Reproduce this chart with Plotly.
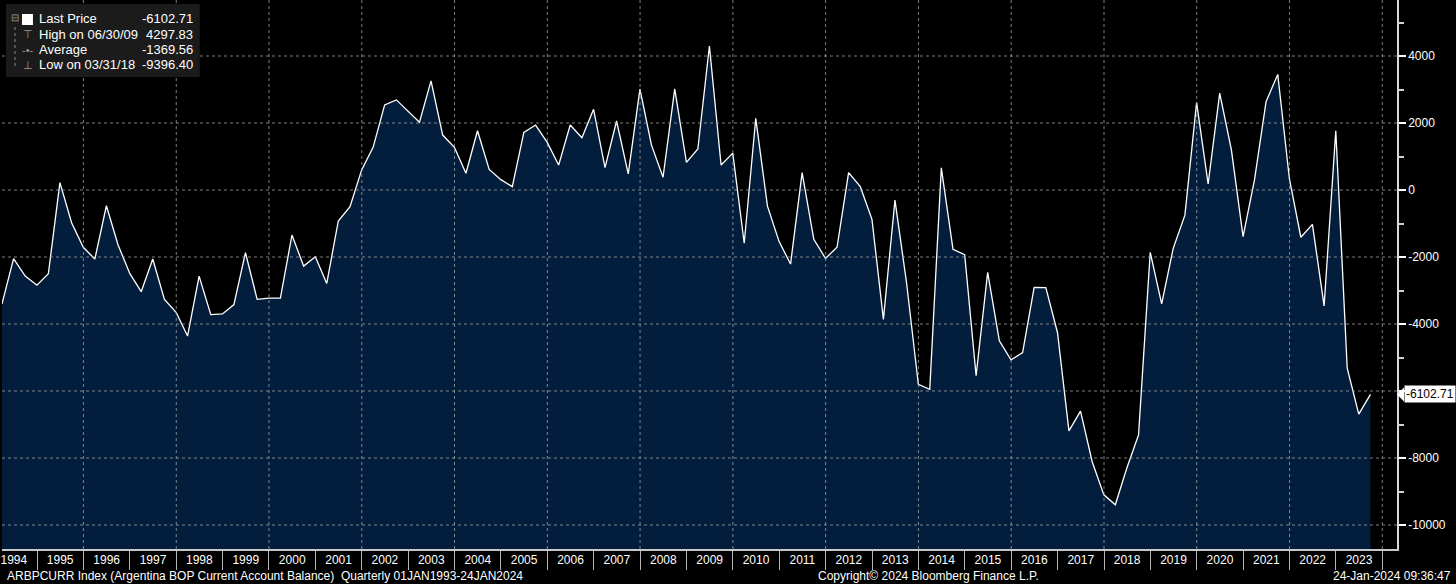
import pandas as pd
import plotly.graph_objects as go

# ARBPCURR Index - Argentina BOP current account balance, quarterly, 1994Q1 .. 2023Q3
quarters = pd.period_range("1994Q1", "2023Q3", freq="Q")
balance = [
    -3400, -2050, -2570, -2840,      # 1994
    -2500, 220, -975, -1710,         # 1995
    -2060, -470, -1640, -2490,       # 1996
    -3035, -2060, -3265, -3650,      # 1997
    -4360, -2570, -3720, -3700,      # 1998
    -3420, -1870, -3265, -3225,      # 1999
    -3225, -1345, -2270, -1990,      # 2000
    -2790, -925, -500, 600,          # 2001
    1275, 2540, 2690, 2360,          # 2002
    2020, 3260, 1640, 1275,          # 2003
    500, 1770, 615, 310,             # 2004
    100, 1720, 1940, 1420,           # 2005
    745, 1940, 1560, 2410,           # 2006
    670, 2060, 480, 3010,            # 2007
    1340, 380, 3020, 825,            # 2008
    1225, 4297.83, 745, 1100,        # 2009
    -1590, 2140, -480, -1540,        # 2010
    -2210, 520, -1470, -2040,        # 2011
    -1710, 520, 100, -875,           # 2012
    -3860, -300, -2790, -5800,       # 2013
    -5950, 660, -1770, -1930,        # 2014
    -5540, -2460, -4500, -5070,      # 2015
    -4850, -2905, -2915, -4260,      # 2016
    -7190, -6600, -8110, -9100,      # 2017
    -9396.40, -8300, -7310, -1860,   # 2018
    -3400, -1740, -750, 2610,        # 2019
    180, 2890, 1195, -1390,          # 2020
    300, 2640, 3450, 330,            # 2021
    -1410, -1025, -3460, 1770,       # 2022
    -5320, -6690, -6102.71,          # 2023
]
average_full_history = -1369.56   # Bloomberg average incl. 1993 (not on screen)

years = list(range(1994, 2024))
y_ticks = [-10000, -8000, -6000, -4000, -2000, 0, 2000, 4000]
y_minor = [-9000, -7000, -5000, -3000, -1000, 1000, 3000, 5000]
grid_years = list(range(1996, 2025, 2))

dates = quarters.end_time.normalize()
Y_MIN, Y_MAX = -10716, 5672
PLOT_W, PLOT_H = 1397, 549
FONT = "Liberation Sans, Arial, sans-serif"
FILL = "#031e3c"
GRID = "rgba(170,170,170,0.75)"


def px(x):
    return x / PLOT_W


def py(y):
    return 1 - y / PLOT_H


fig = go.Figure()
# baseline at the bottom of the axis so the area fills down to the frame
fig.add_trace(go.Scatter(x=dates, y=[Y_MIN] * len(balance), mode="lines",
                         line=dict(width=0), hoverinfo="skip", showlegend=False))
fig.add_trace(go.Scatter(x=dates, y=balance, mode="lines", fill="tonexty",
                         fillcolor=FILL, line=dict(color="white", width=1.3),
                         showlegend=False))

shapes = []
for v in y_ticks:
    shapes.append(dict(type="line", xref="paper", x0=0, x1=1, yref="y", y0=v, y1=v,
                       line=dict(color=GRID, width=1, dash="dot"), layer="above"))
for yr in grid_years:
    d = f"{yr}-01-01"
    shapes.append(dict(type="line", xref="x", x0=d, x1=d, yref="paper", y0=0, y1=1,
                       line=dict(color=GRID, width=1, dash="dot"), layer="above"))

# last price flag on the right axis (it hides the tick label next to it)
last = balance[-1]
shapes.append(dict(type="path", xref="paper", xsizemode="pixel", xanchor=1,
                   yref="y", ysizemode="pixel", yanchor=last,
                   path="M 0 0 L 7 7 L 7 -7 Z", fillcolor="white",
                   line=dict(width=0), layer="above"))
y_ticktext = ["" if abs(v - last) < 700 else str(v) for v in y_ticks]

# legend box, top-left
shapes.append(dict(type="rect", xref="paper", yref="paper", x0=px(4), x1=px(198),
                   y0=py(77), y1=py(4), fillcolor="#1b1b1b", line=dict(width=0),
                   layer="above"))
shapes.append(dict(type="rect", xref="paper", yref="paper", x0=px(20), x1=px(31),
                   y0=py(25), y1=py(14), fillcolor="white", line=dict(width=0),
                   layer="above"))
shapes.append(dict(type="line", xref="paper", yref="paper", x0=px(13), x1=px(13),
                   y0=py(66), y1=py(24), line=dict(color="#8a8a8a", width=1, dash="dot"),
                   layer="above"))

hi = max(balance)
lo = min(balance)
hi_date = dates[balance.index(hi)]
lo_date = dates[balance.index(lo)]
rows = [
    ("", "Last Price", last),
    ("\u22a4", f"High on {hi_date:%m/%d/%y}", hi),
    ("-\u2022-", "Average", average_full_history),
    ("\u22a5", f"Low on {lo_date:%m/%d/%y}", lo),
]
row_y = [19, 34.5, 50, 65]

annotations = []
for (glyph, label, value), ry in zip(rows, row_y):
    annotations.append(dict(xref="paper", yref="paper", x=px(35), y=py(ry),
                            text=label, showarrow=False, xanchor="left",
                            yanchor="middle", font=dict(color="white", size=13)))
    annotations.append(dict(xref="paper", yref="paper", x=px(193), y=py(ry),
                            text=f"{value:.2f}", showarrow=False, xanchor="right",
                            yanchor="middle", font=dict(color="white", size=13)))
    if glyph:
        annotations.append(dict(xref="paper", yref="paper", x=px(26), y=py(ry),
                                text=glyph, showarrow=False, xanchor="center",
                                yanchor="middle", font=dict(color="#9a9a9a", size=11)))
annotations.append(dict(xref="paper", yref="paper", x=px(13), y=py(17),
                        text="\u229f", showarrow=False, xanchor="center",
                        yanchor="middle", font=dict(color="#9a9a9a", size=10)))

annotations.append(dict(xref="paper", x=1, xshift=7, xanchor="left", yref="y", y=last,
                        yanchor="middle", text=f"{last:.2f}", showarrow=False,
                        bgcolor="white", borderpad=1,
                        font=dict(color="black", size=12)))

# footer
foot_y = py(576)
annotations += [
    dict(xref="paper", yref="paper", x=px(3), y=foot_y, xanchor="left", yanchor="middle",
         text="ARBPCURR Index (Argentina BOP Current Account Balance)  Quarterly 01JAN1993-24JAN2024",
         showarrow=False, font=dict(color="white", size=12)),
    dict(xref="paper", yref="paper", x=px(928), y=foot_y, xanchor="center", yanchor="middle",
         text="Copyright\u00a9 2024 Bloomberg Finance L.P.", showarrow=False,
         font=dict(color="white", size=12)),
    dict(xref="paper", yref="paper", x=px(1453), y=foot_y, xanchor="right", yanchor="middle",
         text="24-Jan-2024 09:36:47", showarrow=False, font=dict(color="white", size=12)),
]

fig.update_layout(
    width=1456, height=584, autosize=False,
    margin=dict(l=0, r=1456 - PLOT_W, t=0, b=584 - PLOT_H),
    paper_bgcolor="black", plot_bgcolor="black",
    font=dict(family=FONT, color="white", size=12),
    showlegend=False, hovermode=False,
    shapes=shapes, annotations=annotations,
    xaxis=dict(
        type="date", range=["1994-03-31", "2024-04-26"],
        # year labels sit in the middle of each year, separators at Jan 1
        tickmode="array", tickvals=[f"{y}-07-02" for y in years],
        ticktext=[str(y) for y in years], ticks="", ticklen=0,
        minor=dict(tick0="1994-01-01", dtick="M12", ticks="outside", ticklen=19,
                   tickwidth=1, tickcolor="#b5b5b5", showgrid=False),
        ticklabelstandoff=-1, ticklabeloverflow="allow",
        showline=True, linecolor="#c8c8c8", linewidth=1.5,
        showgrid=False, zeroline=False, tickfont=dict(color="white", size=12),
    ),
    yaxis=dict(
        side="right", range=[Y_MIN, Y_MAX],
        tickmode="array", tickvals=y_ticks, ticktext=y_ticktext,
        ticks="outside", ticklen=7, tickwidth=2, tickcolor="white",
        minor=dict(tickmode="array", tickvals=y_minor, ticks="outside", ticklen=5,
                   tickcolor="#d0d0d0", showgrid=False),
        showline=True, linecolor="#d8d8d8", linewidth=1.5,
        showgrid=False, zeroline=False, tickfont=dict(color="white", size=12),
    ),
)

# drop the browser's default 8px body margin so the chart fills the window
fig.write_html("out.html", config={"displayModeBar": False},
               post_script="document.body.style.margin='0';")
